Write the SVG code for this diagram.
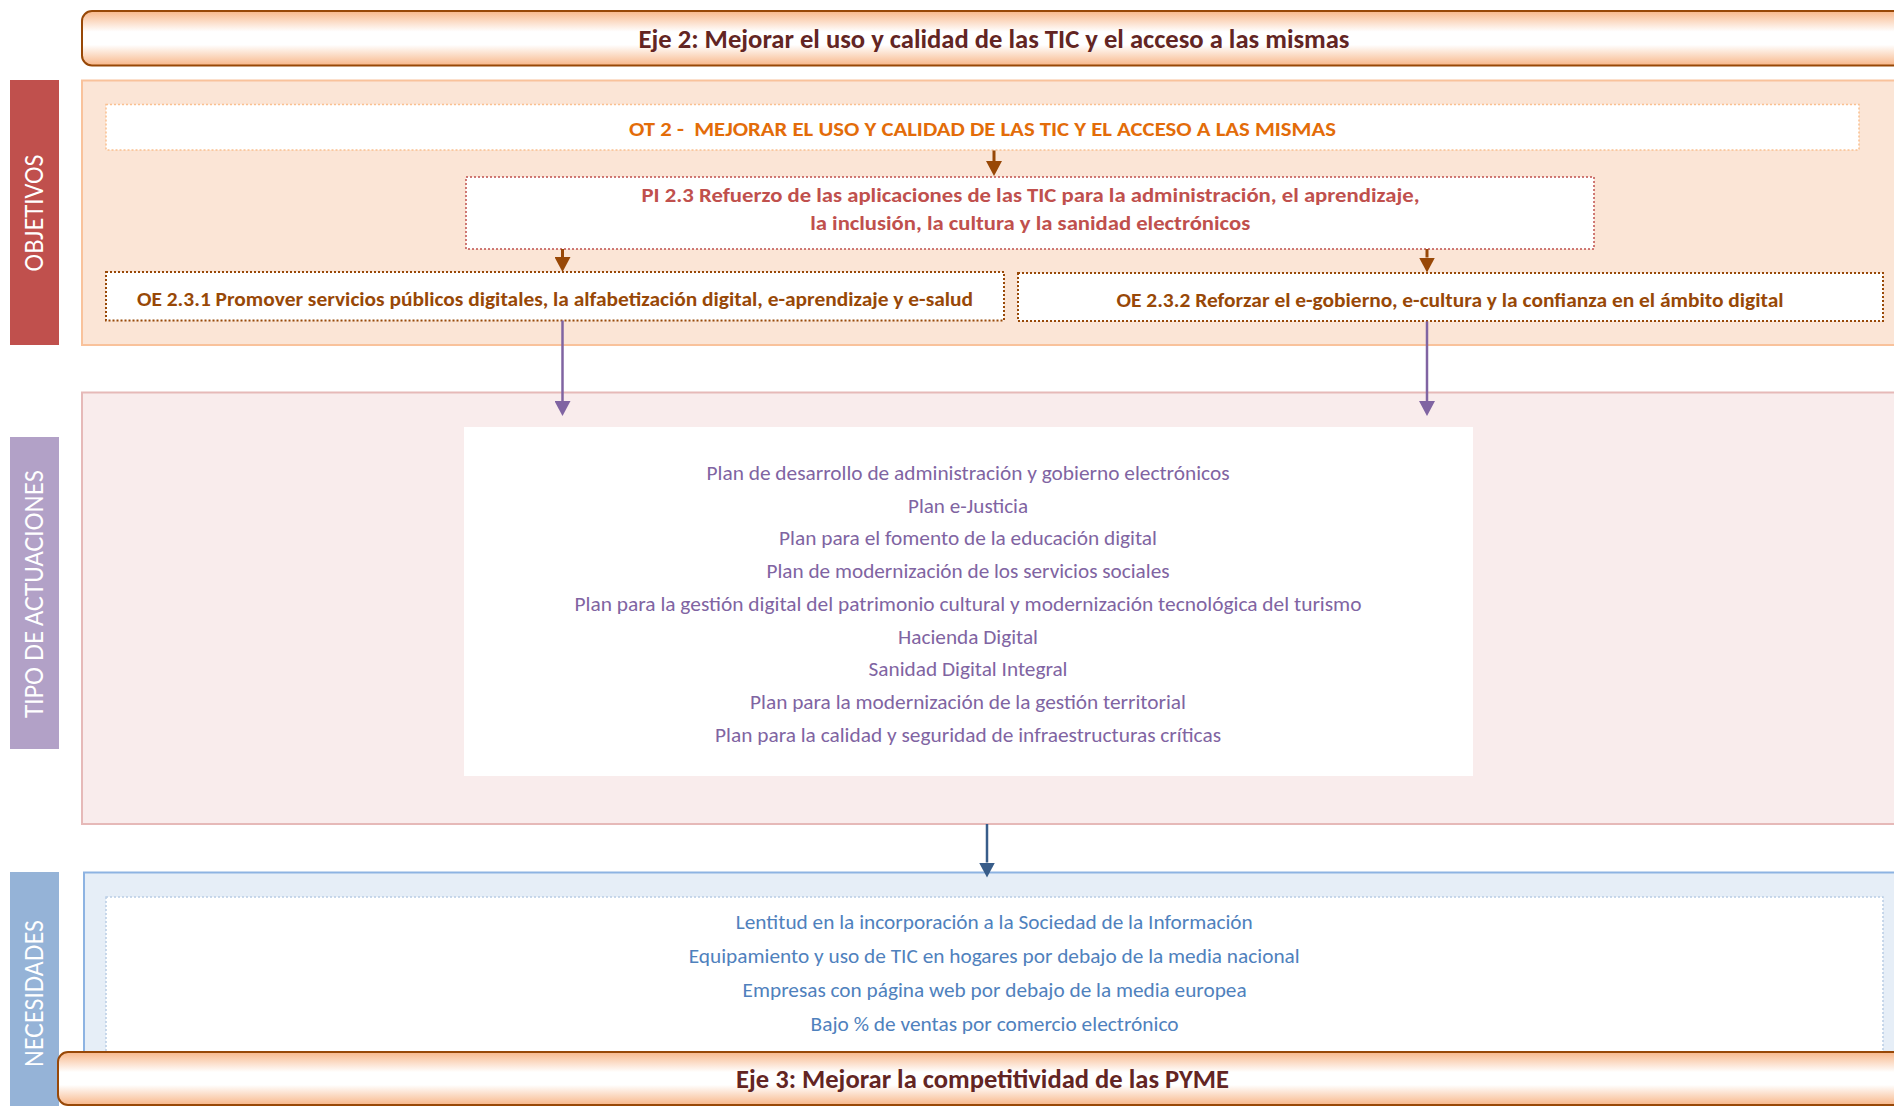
<svg xmlns="http://www.w3.org/2000/svg" width="1894" height="1106" viewBox="0 0 1894 1106">
  <defs>
    <linearGradient id="bannerGrad" x1="0" y1="0" x2="0" y2="1">
      <stop offset="0" stop-color="#F8B78A"/>
      <stop offset="0.38" stop-color="#FFFFFF"/>
      <stop offset="0.62" stop-color="#FFFFFF"/>
      <stop offset="1" stop-color="#F8B78A"/>
    </linearGradient>
    <marker id="arrBrown" markerUnits="userSpaceOnUse" viewBox="0 0 15 16" markerWidth="15" markerHeight="16" refX="0" refY="8" orient="auto">
      <path d="M0,0 L15,8 L0,16 z" fill="#984807"/>
    </marker>
    <marker id="arrPurple" markerUnits="userSpaceOnUse" viewBox="0 0 15 16" markerWidth="15" markerHeight="16" refX="0" refY="8" orient="auto">
      <path d="M0,0 L15,8 L0,16 z" fill="#8064A2"/>
    </marker>
    <marker id="arrBlue" markerUnits="userSpaceOnUse" viewBox="0 0 15 16" markerWidth="15" markerHeight="16" refX="0" refY="8" orient="auto">
      <path d="M0,0 L15,8 L0,16 z" fill="#385D8A"/>
    </marker>
  </defs>
  <style>
    text { font-family: Carlito, "Liberation Sans", Arial, sans-serif; }
    .banner { fill: url(#bannerGrad); stroke: #984807; stroke-width: 2; }
    .bannerText { font-weight: bold; font-size: 26.5px; fill: #632523; text-anchor: middle; }
    .sideLabel { font-family: Lato, "Noto Sans", sans-serif; font-size: 25px; fill: #FFFFFF; text-anchor: middle; }
    .panelObj { fill: #FBE5D6; stroke: #F9C29B; stroke-width: 2; }
    .panelTipo { fill: #F9ECEC; stroke: #E6B9B8; stroke-width: 2; }
    .panelNec { fill: #E6EEF7; stroke: #8DB3E2; stroke-width: 2; }
    .dotOT { fill: #FFFFFF; stroke: #FAC090; stroke-width: 1.5; stroke-dasharray: 2 2; }
    .dotPI { fill: #FFFFFF; stroke: #C0504D; stroke-width: 1.5; stroke-dasharray: 2 2; }
    .dotOE { fill: #FFFFFF; stroke: #984807; stroke-width: 2; stroke-dasharray: 2 2; }
    .dotNec { fill: #FFFFFF; stroke: #B9CDE5; stroke-width: 1.5; stroke-dasharray: 2 2; }
    .tOT { font-weight: bold; font-size: 20.5px; fill: #E36C09; text-anchor: middle; }
    .tPI { font-weight: bold; font-size: 20.5px; fill: #C0504D; text-anchor: middle; }
    .tOE { font-weight: bold; font-size: 21px; fill: #984807; text-anchor: middle; }
    .tTipo { font-size: 20.5px; fill: #8064A2; text-anchor: middle; }
    .tNec { font-size: 21px; fill: #4F81BD; text-anchor: middle; }
    .cBrown { stroke: #984807; stroke-width: 3; fill: none; }
    .cPurple { stroke: #8064A2; stroke-width: 2.5; fill: none; }
    .cBlue { stroke: #385D8A; stroke-width: 2.5; fill: none; }
  </style>

  <rect x="0" y="0" width="1894" height="1106" fill="#FFFFFF"/>

  <!-- Panels (backgrounds) -->
  <g id="panel-objetivos">
    <rect class="panelObj" x="82" y="80.5" width="1830" height="264.5"/>
  </g>
  <g id="panel-tipo">
    <rect class="panelTipo" x="82" y="392.5" width="1830" height="431.5"/>
  </g>
  <g id="panel-necesidades">
    <rect class="panelNec" x="84" y="872.5" width="1830" height="260"/>
  </g>

  <!-- Side labels -->
  <g id="label-objetivos">
    <rect x="10" y="80" width="49" height="265" fill="#C0504D"/>
    <text class="sideLabel" transform="translate(42.5,213) rotate(-90)" textLength="117" lengthAdjust="spacingAndGlyphs">OBJETIVOS</text>
  </g>
  <g id="label-tipo">
    <rect x="10" y="437" width="49" height="312" fill="#B2A1C7"/>
    <text class="sideLabel" transform="translate(42.5,594) rotate(-90)" textLength="248" lengthAdjust="spacingAndGlyphs">TIPO DE ACTUACIONES</text>
  </g>
  <g id="label-necesidades">
    <rect x="10" y="872" width="49" height="240" fill="#95B3D7"/>
    <text class="sideLabel" transform="translate(42.5,993.5) rotate(-90)" textLength="147" lengthAdjust="spacingAndGlyphs">NECESIDADES</text>
  </g>

  <!-- Eje 2 banner -->
  <g id="eje2">
    <rect class="banner" x="82" y="11" width="1830" height="54.5" rx="10" ry="10"/>
    <text class="bannerText" x="994" y="48.3" textLength="711" lengthAdjust="spacingAndGlyphs">Eje 2: Mejorar el uso y calidad de las TIC y el acceso a las mismas</text>
  </g>

  <!-- Objetivos nodes -->
  <g id="ot2">
    <rect class="dotOT" x="106" y="104.5" width="1753" height="45.5"/>
    <text class="tOT" x="982.5" y="135.5" textLength="707" lengthAdjust="spacingAndGlyphs" xml:space="preserve">OT 2 -  MEJORAR EL USO Y CALIDAD DE LAS TIC Y EL ACCESO A LAS MISMAS</text>
  </g>
  <g id="pi23">
    <rect class="dotPI" x="466" y="177" width="1128" height="72"/>
    <text class="tPI" x="1030.5" y="201.7" textLength="778" lengthAdjust="spacingAndGlyphs">PI 2.3 Refuerzo de las aplicaciones de las TIC para la administración, el aprendizaje,</text>
    <text class="tPI" x="1030.2" y="230" textLength="440" lengthAdjust="spacingAndGlyphs">la inclusión, la cultura y la sanidad electrónicos</text>
  </g>
  <g id="oe231">
    <rect class="dotOE" x="106" y="272" width="898" height="48.5"/>
    <text class="tOE" x="555" y="305.5" textLength="836" lengthAdjust="spacingAndGlyphs">OE 2.3.1 Promover servicios públicos digitales, la alfabetización digital, e-aprendizaje y e-salud</text>
  </g>
  <g id="oe232">
    <rect class="dotOE" x="1018" y="273" width="865" height="48"/>
    <text class="tOE" x="1450" y="306.5" textLength="667" lengthAdjust="spacingAndGlyphs">OE 2.3.2 Reforzar el e-gobierno, e-cultura y la confianza en el ámbito digital</text>
  </g>

  <!-- Tipo de actuaciones node -->
  <g id="actuaciones">
    <rect x="464" y="427" width="1009" height="349" fill="#FFFFFF"/>
    <text class="tTipo" x="968" y="480" textLength="523" lengthAdjust="spacingAndGlyphs">Plan de desarrollo de administración y gobierno electrónicos</text>
    <text class="tTipo" x="968" y="512.7" textLength="120" lengthAdjust="spacingAndGlyphs">Plan e-Justicia</text>
    <text class="tTipo" x="968" y="545.4" textLength="378" lengthAdjust="spacingAndGlyphs">Plan para el fomento de la educación digital</text>
    <text class="tTipo" x="968" y="578.1" textLength="403" lengthAdjust="spacingAndGlyphs">Plan de modernización de los servicios sociales</text>
    <text class="tTipo" x="968" y="610.8" textLength="787" lengthAdjust="spacingAndGlyphs">Plan para la gestión digital del patrimonio cultural y modernización tecnológica del turismo</text>
    <text class="tTipo" x="968" y="643.5" textLength="140" lengthAdjust="spacingAndGlyphs">Hacienda Digital</text>
    <text class="tTipo" x="968" y="676.2" textLength="199" lengthAdjust="spacingAndGlyphs">Sanidad Digital Integral</text>
    <text class="tTipo" x="968" y="708.9" textLength="436" lengthAdjust="spacingAndGlyphs">Plan para la modernización de la gestión territorial</text>
    <text class="tTipo" x="968" y="741.6" textLength="506" lengthAdjust="spacingAndGlyphs">Plan para la calidad y seguridad de infraestructuras críticas</text>
  </g>

  <!-- Necesidades node -->
  <g id="necesidades">
    <rect class="dotNec" x="106" y="897" width="1777" height="220"/>
    <text class="tNec" x="994.3" y="929" textLength="517" lengthAdjust="spacingAndGlyphs">Lentitud en la incorporación a la Sociedad de la Información</text>
    <text class="tNec" x="994.2" y="963.2" textLength="611" lengthAdjust="spacingAndGlyphs">Equipamiento y uso de TIC en hogares por debajo de la media nacional</text>
    <text class="tNec" x="994.6" y="997.3" textLength="504" lengthAdjust="spacingAndGlyphs">Empresas con página web por debajo de la media europea</text>
    <text class="tNec" x="994.6" y="1031.3" textLength="368" lengthAdjust="spacingAndGlyphs">Bajo % de ventas por comercio electrónico</text>
  </g>

  <!-- Connectors -->
  <g id="connectors">
    <line class="cBrown" x1="994" y1="150.5" x2="994" y2="161" marker-end="url(#arrBrown)"/>
    <line class="cBrown" x1="562.5" y1="249" x2="562.5" y2="257" marker-end="url(#arrBrown)"/>
    <line class="cBrown" x1="1427" y1="249" x2="1427" y2="257.5" marker-end="url(#arrBrown)"/>
    <line class="cPurple" x1="562.5" y1="320.5" x2="562.5" y2="401" marker-end="url(#arrPurple)"/>
    <line class="cPurple" x1="1427" y1="321.5" x2="1427" y2="401" marker-end="url(#arrPurple)"/>
    <line class="cBlue" x1="987" y1="824" x2="987" y2="862.5" marker-end="url(#arrBlue)"/>
  </g>

  <!-- Eje 3 banner -->
  <g id="eje3">
    <rect class="banner" x="58" y="1052" width="1854" height="53" rx="10" ry="10"/>
    <text class="bannerText" x="982.5" y="1088.3" textLength="493" lengthAdjust="spacingAndGlyphs">Eje 3: Mejorar la competitividad de las PYME</text>
  </g>
</svg>
